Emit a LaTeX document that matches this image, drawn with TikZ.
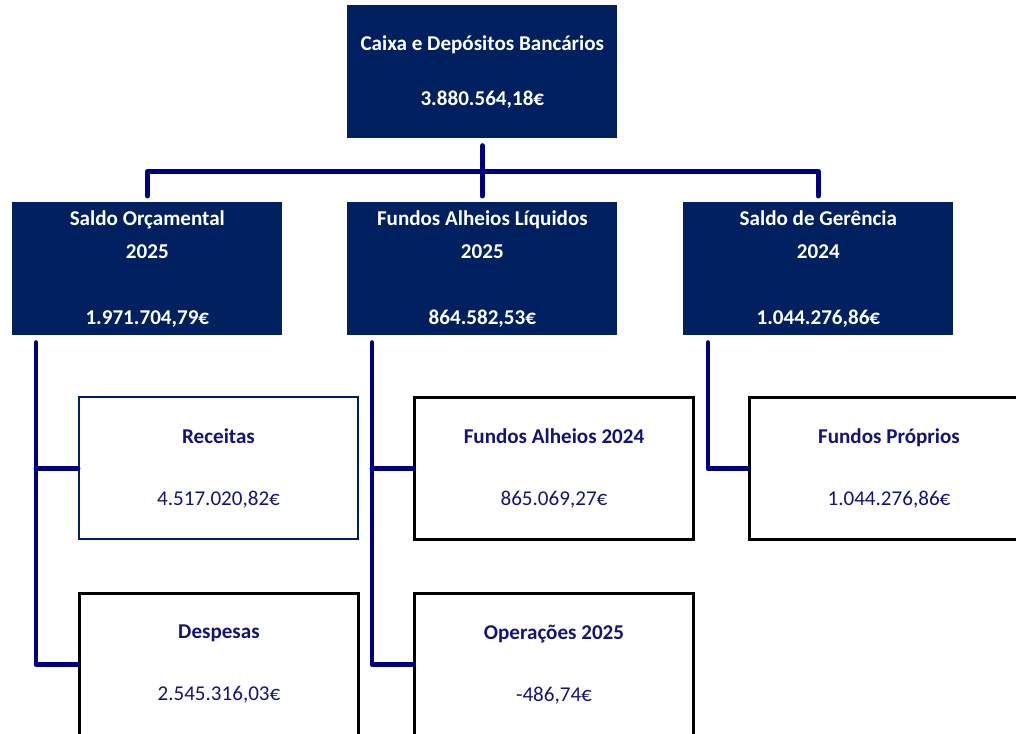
\documentclass[tikz,border=0pt]{standalone}
\usepackage{fontspec}
\setmainfont{Carlito}
\usepackage{tikz}
\usetikzlibrary{calc}

\definecolor{navyfill}{RGB}{0,32,96}
\definecolor{navyline}{RGB}{0,0,128}
\definecolor{navytext}{RGB}{20,20,120}

\tikzset{
  topbox/.style={fill=navyfill, draw=none, text=white, font=\fontsize{12}{18.8}\selectfont\bfseries,
    minimum width=5.4cm, minimum height=2.66cm, anchor=north west, align=center, inner sep=0pt},
  subbox/.style={fill=white, draw=black, line width=1.7pt, text=navytext, font=\fontsize{12}{18.8}\selectfont,
    minimum width=5.58cm, minimum height=2.84cm, anchor=north west, align=center, inner sep=0pt},
  conn/.style={draw=navyline, line width=2.8pt, line cap=round, line join=round}
}

\begin{document}
\begin{tikzpicture}[x=0.02cm, y=-0.02cm]
        \useasboundingbox (0,0) rectangle (1016,733);
        \clip (0,0) rectangle (1016,733);
        % top
        \node[topbox] (cdb) at (347,5) {Caixa e Depósitos Bancários\\[12.5pt]3.880.564,18€};
        % second row
        \node[topbox] (so) at (12,202) {Saldo Orçamental\\2025\\ \\1.971.704,79€};
        \node[topbox] (fal) at (347,202) {Fundos Alheios Líquidos\\2025\\ \\864.582,53€};
        \node[topbox] (sg) at (683,202) {Saldo de Gerência\\2024\\ \\1.044.276,86€};
        % lower boxes
        \node[subbox, draw=navyfill, line width=1.2pt] (rec) at (78,396) {\textbf{Receitas}\\[16.5pt]4.517.020,82€};
        \node[subbox] (desp) at (78,592) {\textbf{Despesas}\\[16.5pt]2.545.316,03€};
        \node[subbox] (fa24) at (413,396) {\textbf{Fundos Alheios 2024}\\[16.5pt]865.069,27€};
        \node[subbox] (op25) at (413,592) {\textbf{Operações 2025}\\[16.5pt]-486,74€};
        \node[subbox, minimum width=5.58cm] (fp) at (748,396) {\textbf{Fundos Próprios}\\[16.5pt]1.044.276,86€};
        % tree lines
        \coordinate (hbar) at ($(cdb.south)+(0,33)$);
        \draw[conn] ($(cdb.south)+(0,7)$) -- ($(fal.north)+(0,-6)$);
        \draw[conn] ($(so.north)+(0,-6)$) |- (hbar) -| ($(sg.north)+(0,-6)$);
        \coordinate (lso) at ($(so.south west)+(24,7)$);
        \coordinate (lfal) at ($(fal.south west)+(25,7)$);
        \coordinate (lsg) at ($(sg.south west)+(25,7)$);
        \draw[conn] (lso) |- (desp.west);
        \draw[conn] (lso |- rec.west) -- (rec.west);
        \draw[conn] (lfal) |- (op25.west);
        \draw[conn] (lfal |- fa24.west) -- (fa24.west);
        \draw[conn] (lsg) |- (fp.west);
    \end{tikzpicture}
\end{document}
